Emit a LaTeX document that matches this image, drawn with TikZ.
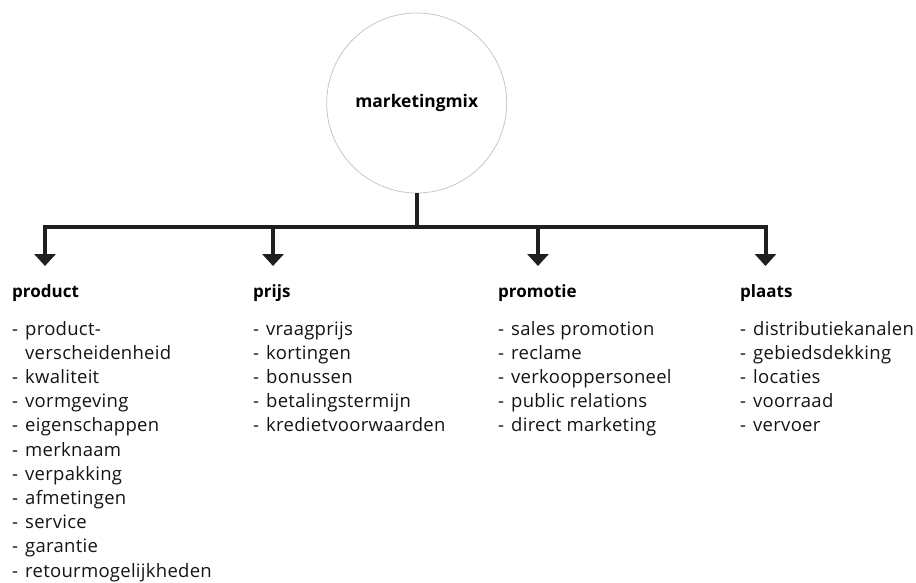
\documentclass[tikz,border=0pt]{standalone}
\usepackage{fontspec}
\setmainfont{Open Sans}
\newfontfamily\listfont[LetterSpace=1.5]{Open Sans}
\usetikzlibrary{arrows.meta}

\tikzset{
  hub/.style={circle, draw=black!22, line width=0.8pt, minimum size=180pt,
              inner sep=0pt, font=\bfseries\fontsize{17.4}{20}\selectfont},
  bar/.style={line width=4pt, draw=black!88},
  branch/.style={bar, -{Triangle[width=21pt,length=12pt]}},
  heading/.style={anchor=base west, inner sep=0pt,
                  font=\bfseries\fontsize{17}{20}\selectfont},
  itemlist/.style={anchor=base west, inner sep=0pt, align=left,
                   text=black!92,
                   font=\listfont\fontsize{18.5}{24.2}\selectfont},
}
\newcommand{\dashitem}[1]{\makebox[13pt][l]{-}#1}
\newcommand{\contitem}[1]{\hspace*{13pt}#1}

\begin{document}
\begin{tikzpicture}[x=1pt, y=-1pt]
  \useasboundingbox (0,0) rectangle (916,582);

  % central concept
  \node[hub] (mix) at (416.7,103) {\raisebox{-3pt}{marketingmix}};

  % distribution bar
  \coordinate (hubfoot) at (416.7,227);
  \coordinate (b1) at (45,227);
  \coordinate (b2) at (273,227);
  \coordinate (b3) at (538,227);
  \coordinate (b4) at (765.5,227);
  \coordinate (t1) at (45,266);
  \coordinate (t2) at (273,266);
  \coordinate (t3) at (538,266);
  \coordinate (t4) at (765.5,266);

  \draw[bar] (mix.south) -- (hubfoot);
  \draw[bar, line cap=rect] (b1) -- (b4);
  \draw[branch] (b1) -- (t1);
  \draw[branch] (b2) -- (t2);
  \draw[branch] (b3) -- (t3);
  \draw[branch] (b4) -- (t4);

  % the four P's
  \node[heading] (hp1) at (12,297) {product};
  \node[heading] (hp2) at (253,297) {prijs};
  \node[heading] (hp3) at (498,297) {promotie};
  \node[heading] (hp4) at (740,297) {plaats};

  % item lists: the base anchor sits on the last line,
  % so the first line lands at y = 335
  \node[itemlist] (lp1) at (12,577) {%
    \dashitem{product-}\\
    \contitem{verscheidenheid}\\
    \dashitem{kwaliteit}\\
    \dashitem{vormgeving}\\
    \dashitem{eigenschappen}\\
    \dashitem{merknaam}\\
    \dashitem{verpakking}\\
    \dashitem{afmetingen}\\
    \dashitem{service}\\
    \dashitem{garantie}\\
    \dashitem{retourmogelijkheden}};

  \node[itemlist] (lp2) at (253,431.8) {%
    \dashitem{vraagprijs}\\
    \dashitem{kortingen}\\
    \dashitem{bonussen}\\
    \dashitem{betalingstermijn}\\
    \dashitem{kredietvoorwaarden}};

  \node[itemlist] (lp3) at (498,431.8) {%
    \dashitem{sales promotion}\\
    \dashitem{reclame}\\
    \dashitem{verkooppersoneel}\\
    \dashitem{public relations}\\
    \dashitem{direct marketing}};

  \node[itemlist] (lp4) at (740,431.8) {%
    \dashitem{distributiekanalen}\\
    \dashitem{gebiedsdekking}\\
    \dashitem{locaties}\\
    \dashitem{voorraad}\\
    \dashitem{vervoer}};
\end{tikzpicture}
\end{document}
